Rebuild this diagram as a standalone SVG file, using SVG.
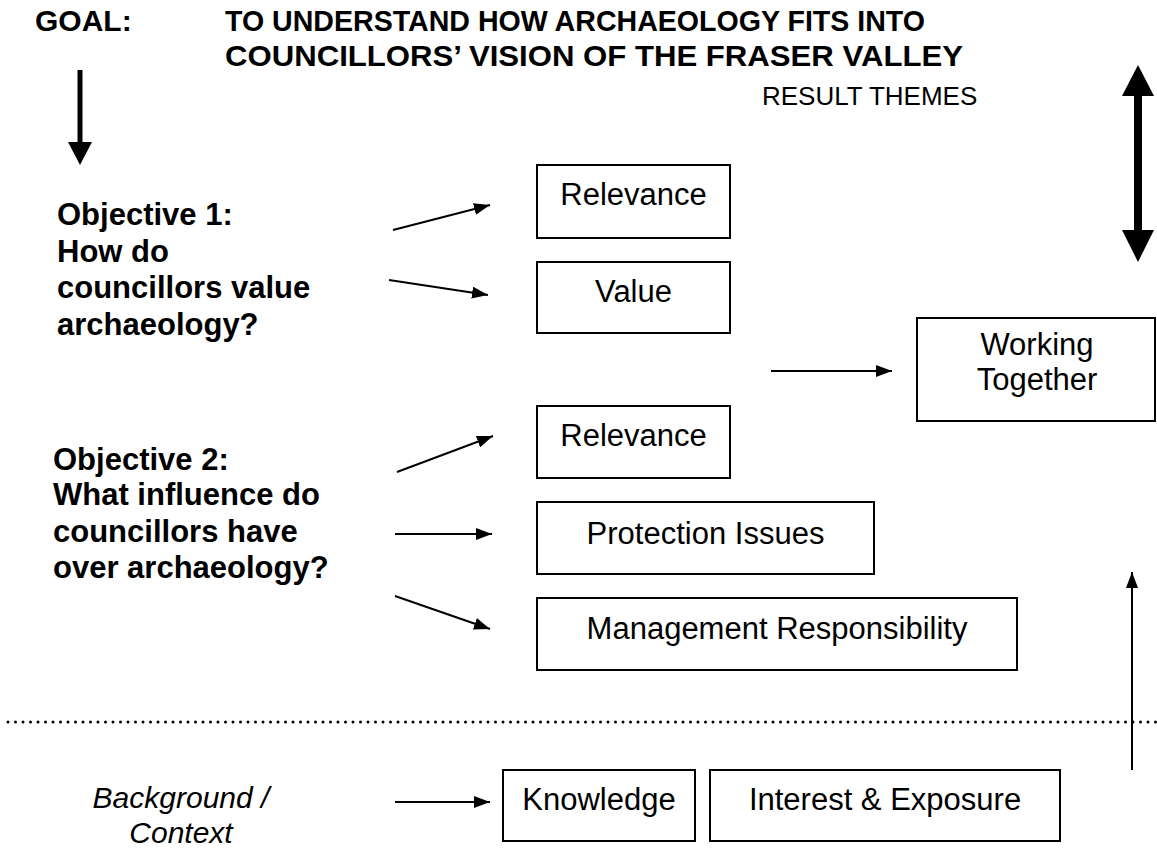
<svg xmlns="http://www.w3.org/2000/svg" width="1157" height="848" viewBox="0 0 1157 848">
<style>
text{font-family:"Liberation Sans",Arial,sans-serif;fill:#000}
.title{font-size:30px;font-weight:bold}
.obj{font-size:31px;font-weight:bold}
.lbl{font-size:31px;text-anchor:middle}
.box{fill:#fff;stroke:#000;stroke-width:2}
.conn{stroke:#000;stroke-width:2;fill:none}
</style>
<defs>
<marker id="ah" markerUnits="userSpaceOnUse" markerWidth="16" markerHeight="12" refX="16" refY="6" orient="auto">
<path d="M0,0 L16,6 L0,12 z" fill="#000"/>
</marker>
</defs>
<rect width="1157" height="848" fill="#fff"/>
<g id="goal">
<text class="title" x="35" y="31">GOAL:</text>
<text class="title" x="225" y="31" textLength="700" lengthAdjust="spacingAndGlyphs">TO UNDERSTAND HOW ARCHAEOLOGY FITS INTO</text>
<text class="title" x="225" y="66" textLength="738" lengthAdjust="spacingAndGlyphs">COUNCILLORS’ VISION OF THE FRASER VALLEY</text>
</g>
<g id="result-themes"><text x="762" y="105" style="font-size:26px">RESULT THEMES</text></g>
<g id="objective1">
<text class="obj" x="57" y="225">Objective 1:</text>
<text class="obj" x="57" y="262">How do</text>
<text class="obj" x="57" y="298">councillors value</text>
<text class="obj" x="57" y="335">archaeology?</text>
</g>
<g id="objective2">
<text class="obj" x="53" y="470">Objective 2:</text>
<text class="obj" x="53" y="505">What influence do</text>
<text class="obj" x="53" y="542">councillors have</text>
<text class="obj" x="53" y="578">over archaeology?</text>
</g>
<g id="background">
<text x="181" y="808" style="font-size:30px;font-style:italic;text-anchor:middle">Background /</text>
<text x="181" y="843" style="font-size:30px;font-style:italic;text-anchor:middle">Context</text>
</g>
<g id="relevance1"><rect class="box" x="537" y="165" width="193" height="73"/><text class="lbl" x="633.5" y="205">Relevance</text></g>
<g id="value"><rect class="box" x="537" y="262" width="193" height="71"/><text class="lbl" x="633.5" y="302">Value</text></g>
<g id="working-together"><rect class="box" x="917" y="318" width="238" height="103"/><text class="lbl" x="1037" y="355">Working</text><text class="lbl" x="1037" y="390">Together</text></g>
<g id="relevance2"><rect class="box" x="537" y="406" width="193" height="72"/><text class="lbl" x="633.5" y="446">Relevance</text></g>
<g id="protection"><rect class="box" x="537" y="502" width="337" height="72"/><text class="lbl" x="705.5" y="544">Protection Issues</text></g>
<g id="management"><rect class="box" x="537" y="598" width="480" height="72"/><text class="lbl" x="777" y="639">Management Responsibility</text></g>
<g id="knowledge"><rect class="box" x="503" y="770" width="192" height="71"/><text class="lbl" x="599" y="810">Knowledge</text></g>
<g id="interest"><rect class="box" x="710" y="770" width="350" height="71"/><text class="lbl" x="885" y="810">Interest &amp; Exposure</text></g>
<g id="connectors">
<line x1="80" y1="70" x2="80" y2="145" stroke="#000" stroke-width="5"/>
<polygon points="68,142 92,142 80,165" fill="#000"/>
<rect x="1134" y="94" width="8" height="138" fill="#000"/>
<polygon points="1122,96 1154,96 1138,65" fill="#000"/>
<polygon points="1122,230 1154,230 1138,262" fill="#000"/>
<line class="conn" x1="393" y1="230" x2="490" y2="205" marker-end="url(#ah)"/>
<line class="conn" x1="389" y1="280" x2="488" y2="295" marker-end="url(#ah)"/>
<line class="conn" x1="771" y1="371" x2="892" y2="371" marker-end="url(#ah)"/>
<line class="conn" x1="397" y1="472" x2="493" y2="436" marker-end="url(#ah)"/>
<line class="conn" x1="395" y1="534" x2="492" y2="534" marker-end="url(#ah)"/>
<line class="conn" x1="395" y1="596" x2="490" y2="629" marker-end="url(#ah)"/>
<line class="conn" x1="395" y1="802" x2="490" y2="802" marker-end="url(#ah)"/>
<line x1="8" y1="722" x2="1157" y2="722" stroke="#000" stroke-width="3" stroke-linecap="round" stroke-dasharray="0 7.5"/>
<line class="conn" x1="1132" y1="770" x2="1132" y2="572" marker-end="url(#ah)"/>
</g>
</svg>
